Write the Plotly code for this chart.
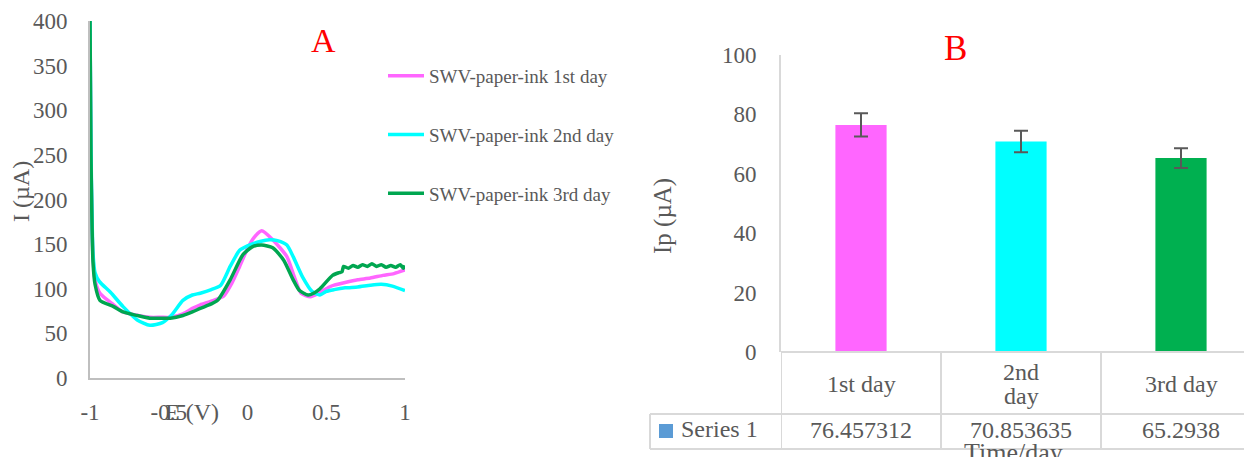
import plotly.graph_objects as go

# ---------------- Data: panel A (SWV curves) ----------------
E_day1 = [-1.0, -0.994, -0.987, -0.981, -0.968, -0.937, -0.85, -0.79, -0.72, -0.62, -0.55, -0.49, -0.41,
          -0.35, -0.30, -0.23, -0.15, -0.10, -0.05, 0.0, 0.04, 0.09, 0.16, 0.25, 0.30, 0.34, 0.40,
          0.46, 0.52, 0.55, 0.62, 0.70, 0.78, 0.86, 0.93, 1.0]
I_day1 = [400, 250, 170, 135, 110, 95, 82, 74, 71, 68, 68, 68, 72,
          78, 82, 86, 92, 106, 125, 145, 157, 165, 155, 136, 112, 95, 91,
          96, 102, 104, 107, 110, 112, 115, 117, 121]

E_day2 = [-1.0, -0.994, -0.987, -0.981, -0.968, -0.94, -0.87, -0.79, -0.70, -0.62, -0.54, -0.48, -0.41,
          -0.35, -0.30, -0.23, -0.17, -0.11, -0.05, 0.0, 0.08, 0.14, 0.19, 0.25, 0.29, 0.35, 0.41, 0.46,
          0.50, 0.55, 0.62, 0.70, 0.78, 0.85, 0.92, 1.0]
I_day2 = [400, 260, 180, 140, 118, 108, 96, 80, 65, 59, 62, 71, 87,
          93, 95, 99, 104, 125, 143, 148, 153, 155, 154, 149, 136, 113, 97, 93,
          97, 99, 101, 102, 104, 105, 103, 98]

E_day3 = [-1.0, -0.994, -0.987, -0.981, -0.968, -0.937, -0.85, -0.79, -0.70, -0.62, -0.55, -0.49, -0.41,
          -0.35, -0.30, -0.23, -0.19, -0.11, -0.03, 0.03, 0.09, 0.16, 0.23, 0.29, 0.33, 0.385, 0.42, 0.46,
          0.54, 0.58, 0.60, 0.61, 0.64, 0.67, 0.70, 0.73, 0.76, 0.79, 0.82, 0.85, 0.88, 0.91, 0.94, 0.97, 0.99, 1.0]
I_day3 = [400, 250, 170, 130, 105, 87, 80, 74, 70, 67, 67, 67, 70,
          74, 78, 83, 87, 110, 138, 147, 149, 146, 132, 110, 98, 93, 95, 100,
          115, 118, 119, 125, 123, 126, 124, 127, 125, 128, 125, 127, 124, 126, 124, 127, 123, 126]

series_names = ["SWV-paper-ink 1st day", "SWV-paper-ink 2nd day", "SWV-paper-ink 3rd day"]
series_colors = ["#ff66ff", "#00ffff", "#00a650"]

# ---------------- Data: panel B (bar chart with data table) ----------------
days = ["1st day", "2nd<br>day", "3rd day"]
ip_values = [76.457312, 70.853635, 65.2938]
ip_labels = ["76.457312", "70.853635", "65.2938"]
ip_errors = [3.9, 3.6, 3.3]
bar_colors = ["#ff66ff", "#00ffff", "#00b050"]

W, H = 1252, 457
OFF = 8  # page body margin offset
def px(x):
    return (x - OFF) / W
def py(y):
    return 1 - (y - OFF) / H

FONT = "Liberation Serif, Times New Roman, serif"
GRAY = "#595959"
TICK = 23

fig = go.Figure()

for E, I, name, col in zip([E_day1, E_day2, E_day3], [I_day1, I_day2, I_day3], series_names, series_colors):
    fig.add_trace(go.Scatter(x=E, y=I, mode="lines", name=name, line=dict(color=col, width=3.5, shape="spline", smoothing=0.6),
                             xaxis="x", yaxis="y", legendgroup=name))

fig.add_trace(go.Bar(x=[0, 1, 2], y=ip_values, marker=dict(color=bar_colors, line=dict(width=0)),
                     width=0.32, showlegend=False, xaxis="x2", yaxis="y2",
                     error_y=dict(type="data", array=ip_errors, visible=True, color="#595959", thickness=2, width=7)))

axis_line = "#bfbfbf"
fig.update_layout(
    width=W, height=H,
    margin=dict(l=0, r=0, t=0, b=0, autoexpand=False),
    paper_bgcolor="white", plot_bgcolor="white",
    font=dict(family=FONT, color=GRAY, size=20),
    xaxis=dict(domain=[px(90), px(405)], range=[-1, 1], tickvals=[-1, -0.5, 0, 0.5, 1],
               ticktext=["-1", "-0.5", "0", "0.5", "1"], showgrid=False, zeroline=False,
               showline=True, linecolor=axis_line, linewidth=2, ticks="", anchor="y", automargin=False,
               tickfont=dict(family=FONT, size=TICK, color=GRAY), ticklabelstandoff=12),
    yaxis=dict(domain=[py(378), py(21)], range=[0, 400], dtick=50, showgrid=False, zeroline=False,
               showline=True, linecolor=axis_line, linewidth=2, ticks="", anchor="x", automargin=False,
               tickfont=dict(family=FONT, size=TICK, color=GRAY), ticklabelstandoff=16),
    xaxis2=dict(domain=[px(781), 1.0], range=[-0.5, -0.5 + (W - 781 + OFF) / 160], showgrid=False, zeroline=False,
                showline=False, showticklabels=False, ticks="", anchor="y2", automargin=False),
    yaxis2=dict(domain=[py(352), py(55)], range=[0, 100], dtick=20, showgrid=False, zeroline=False,
                showline=True, linecolor="#d9d9d9", linewidth=2, ticks="", anchor="x2", automargin=False,
                tickfont=dict(family=FONT, size=TICK, color=GRAY), ticklabelstandoff=18),
    legend=dict(x=px(383), y=py(57), xanchor="left", yanchor="top", bgcolor="rgba(0,0,0,0)",
                font=dict(family=FONT, size=19, color=GRAY), traceorder="grouped", tracegroupgap=31,
                itemwidth=36),
    showlegend=True,
)

# Table lines for panel B
tc = "#d9d9d9"
shapes = []
shapes.append(dict(type="line", xref="x2", yref="paper", x0=-0.5, x1=3, y0=py(352), y1=py(352), line=dict(color=tc, width=2)))
for yy in [414, 449]:
    shapes.append(dict(type="line", xref="paper", yref="paper", x0=px(650), x1=1.0, y0=py(yy), y1=py(yy), line=dict(color=tc, width=2)))
for xb in [-0.5, 0.5, 1.5]:
    shapes.append(dict(type="line", xref="x2", yref="paper", x0=xb, x1=xb, y0=py(352), y1=py(449), line=dict(color=tc, width=2)))
shapes.append(dict(type="line", xref="paper", yref="paper", x0=px(650), x1=px(650), y0=py(414), y1=py(449), line=dict(color=tc, width=2)))
shapes.append(dict(type="rect", xref="paper", yref="paper", x0=px(659), x1=px(673), y0=py(438), y1=py(424),
                   fillcolor="#5b9bd5", line=dict(width=0)))
fig.update_layout(shapes=shapes)

def A(text, x, y, xref="paper", size=20, color=GRAY, angle=0, xanchor="center"):
    return dict(text=text, x=x, y=y, xref=xref, yref="paper", showarrow=False, textangle=angle,
                xanchor=xanchor, yanchor="middle", font=dict(family=FONT, size=size, color=color))

ann = []
ann.append(A("A", px(323), py(40), size=34, color="red"))
ann.append(A("B", px(955), py(48), size=35, color="red"))
ann.append(A("I (µA)", px(21), py(192), size=24, angle=-90))
ann.append(A("E (V)", px(192), py(412), size=24))
ann.append(A("Ip (µA)", px(663), py(216), size=25, angle=-90))
for i, d in enumerate(days):
    lines = d.split("<br>")
    n = len(lines)
    for k, ln in enumerate(lines):
        ann.append(A(ln, i, py(384 + (k - (n - 1) / 2) * 24), xref="x2", size=24))
    ann.append(A(ip_labels[i], i, py(430), xref="x2", size=24))
ann.append(A("Series 1", px(679), py(429), xanchor="left", size=24))
ann.append(A("Time/day", px(1013), py(452), size=26))
fig.update_layout(annotations=ann)

fig.write_html("out.html")
